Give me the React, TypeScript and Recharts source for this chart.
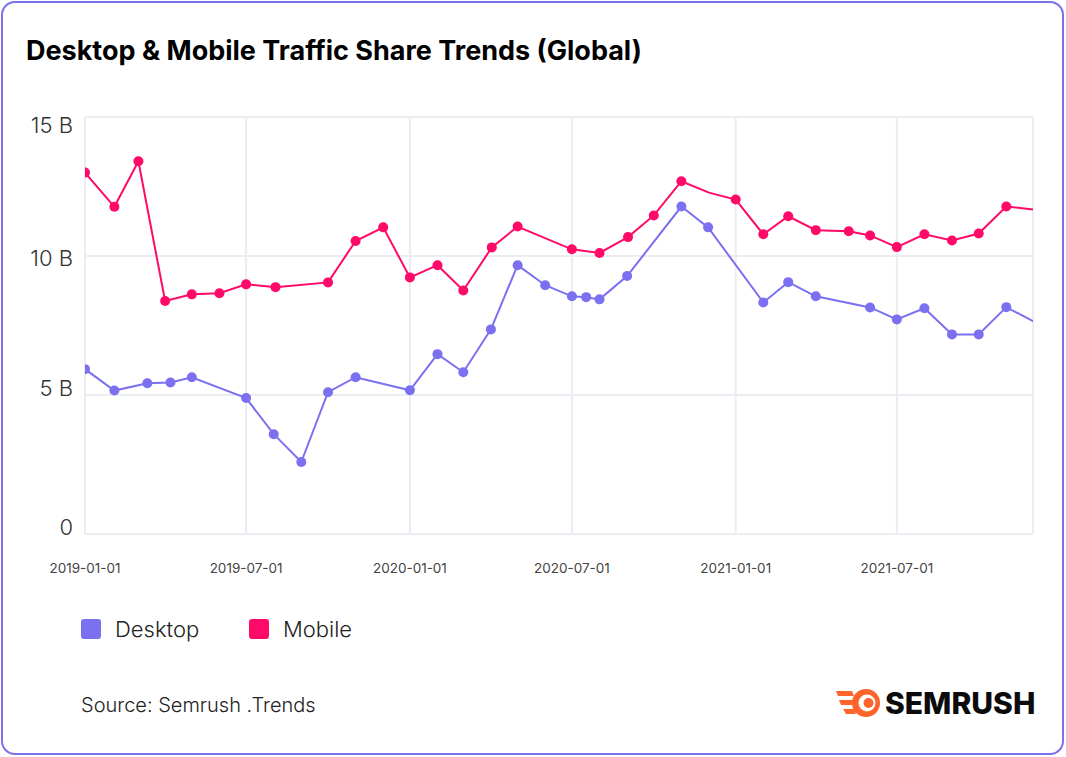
import { LineChart, Line, XAxis, YAxis, CartesianGrid, ReferenceLine } from "recharts"

// series names + colors
const seriesNames = ["Desktop", "Mobile"]
const seriesColors = ["#7b70f0", "#ff0a68"]

// desktop visits (billions), irregular sample dates
const desktopDates = [
  "2019-01-01", "2019-02-03", "2019-03-12", "2019-04-07", "2019-05-01", "2019-07-01",
  "2019-08-01", "2019-09-01", "2019-10-01", "2019-11-01", "2020-01-01", "2020-02-01",
  "2020-03-01", "2020-04-01", "2020-05-01", "2020-06-01", "2020-07-01", "2020-07-17",
  "2020-08-01", "2020-09-01", "2020-11-01", "2020-12-01", "2021-02-01", "2021-03-01",
  "2021-04-01", "2021-06-01", "2021-07-01", "2021-08-01", "2021-09-01", "2021-10-01",
  "2021-11-01", "2022-01-01",
]
const desktopValues = [
  5.93, 5.16, 5.42, 5.45, 5.64, 4.89,
  3.59, 2.59, 5.1, 5.64, 5.17, 6.47,
  5.82, 7.36, 9.67, 8.95, 8.55, 8.52,
  8.44, 9.28, 11.78, 11.03, 8.33, 9.06,
  8.55, 8.15, 7.72, 8.12, 7.18, 7.18,
  8.16, 7.14,
]

// mobile visits (billions)
const mobileDates = [
  "2019-01-01", "2019-02-03", "2019-03-02", "2019-04-01", "2019-05-01", "2019-06-01",
  "2019-07-01", "2019-08-03", "2019-10-01", "2019-11-01", "2019-12-02", "2020-01-01",
  "2020-02-01", "2020-03-01", "2020-04-02", "2020-05-01", "2020-07-01", "2020-08-01",
  "2020-09-02", "2020-10-01", "2020-11-01", "2020-12-02", "2021-01-01", "2021-02-01",
  "2021-03-01", "2021-04-01", "2021-05-08", "2021-06-01", "2021-07-01", "2021-08-01",
  "2021-09-01", "2021-10-01", "2021-11-01", "2022-01-01",
]
const mobileValues = [
  13.0, 11.77, 13.41, 8.38, 8.62, 8.66,
  8.98, 8.88, 9.05, 10.54, 11.03, 9.23,
  9.67, 8.76, 10.31, 11.06, 10.24, 10.11,
  10.68, 11.46, 12.69, 12.28, 12.03, 10.78,
  11.43, 10.93, 10.89, 10.74, 10.32, 10.78,
  10.56, 10.81, 11.78, 11.56,
]
// points drawn without a marker
const mobileHiddenDots = ["2020-12-02"]

const xTickLabels = ["2019-01-01", "2019-07-01", "2020-01-01", "2020-07-01", "2021-01-01", "2021-07-01"]
const xDomainLabels = ["2019-01-01", "2021-12-01"]
const yTicks = [0, 5, 10, 15]

const GRID = "#ececf3"
const FONT = "Inter, 'Noto Sans', sans-serif"

const toData = (dates: string[], values: number[]) =>
  dates.map((d, i) => ({ t: Date.parse(d), v: values[i], date: d }))

const desktopData = toData(desktopDates, desktopValues)
const mobileData = toData(mobileDates, mobileValues)
const xTicks = xTickLabels.map((d) => Date.parse(d))
const xDomain = xDomainLabels.map((d) => Date.parse(d))

// y labels sit a little inside the plot at the top/bottom
const yLabelShift: Record<number, number> = { 15: 8, 10: 2, 5: -7.5, 0: -7 }

const YTick = (props: any) => {
  const { x, y, payload } = props
  const v = payload.value
  const label = v === 0 ? "0" : `${v} B`
  return (
    <text x={x} y={y + (yLabelShift[v] ?? 0) + 8} textAnchor="end" fontSize={22} fontWeight={300} fill="#333" fontFamily={FONT}>
      {label}
    </text>
  )
}

const XTick = (props: any) => {
  const { x, y, payload } = props
  const label = new Date(payload.value).toISOString().slice(0, 10)
  return (
    <text x={x} y={y + 9} textAnchor="middle" fontSize={13.5} fill="#444" fontFamily={FONT}>
      {label}
    </text>
  )
}

const MobileDot = (props: any) => {
  const { cx, cy, index, payload } = props
  if (mobileHiddenDots.includes(payload.date) || cx == null) return <g key={`m-${index}`} />
  return <circle key={`m-${index}`} cx={cx} cy={cy} r={5} fill={seriesColors[1]} />
}

function SemrushLogo() {
  return (
    <svg width={204} height={40} viewBox="0 0 204 40" style={{ position: "absolute", left: 834, top: 683 }}>
      <path d="M2 8 L18 8 L20 13 L4 13 Z" fill="#ff642d" />
      <path d="M5 17 L19 17 L19 22 L7 22 Z" fill="#ff642d" />
      <path d="M9 26 L20 26 L22 31 L12 31 Z" fill="#ff642d" />
      <circle cx={32} cy={20} r={14} fill="#ff642d" />
      <circle cx={33} cy={20} r={8.5} fill="#fff" />
      <circle cx={34.5} cy={20} r={5} fill="#ff642d" />
      <text x={51} y={31} fontSize={30} fontWeight={800} fill="#0b0b0b" fontFamily={FONT}>
        SEMRUSH
      </text>
    </svg>
  )
}

export default function App() {
  return (
    <div style={{ position: "absolute", left: 0, top: 0, width: 1066, height: 757, background: "#fff", fontFamily: FONT }}>
      <div
        style={{
          position: "absolute",
          left: 1,
          top: 1,
          width: 1063,
          height: 754,
          boxSizing: "border-box",
          border: "2px solid #7b70ee",
          borderRadius: 14,
        }}
      />
      <div style={{ position: "absolute", left: 26, top: 36, fontSize: 27, lineHeight: "30px", fontWeight: 700, color: "#000" }}>
        Desktop &amp; Mobile Traffic Share Trends (Global)
      </div>

      <div style={{ position: "absolute", left: 0, top: 0 }}>
        <LineChart width={1066} height={600} margin={{ top: 117, right: 33, bottom: 0, left: 0 }}>
          <CartesianGrid stroke={GRID} strokeWidth={2} />
          <XAxis
            type="number"
            dataKey="t"
            domain={xDomain}
            ticks={xTicks}
            allowDataOverflow
            height={66}
            tickSize={0}
            tickMargin={30}
            tick={<XTick />}
            axisLine={{ stroke: GRID, strokeWidth: 2 }}
            tickLine={false}
          />
          <YAxis
            type="number"
            domain={[0, 15]}
            ticks={yTicks}
            width={85}
            tickSize={0}
            tickMargin={12}
            tick={<YTick />}
            axisLine={{ stroke: GRID, strokeWidth: 2 }}
            tickLine={false}
          />
          <ReferenceLine x={xDomain[1]} stroke={GRID} strokeWidth={2} />
          <Line
            data={desktopData}
            dataKey="v"
            name={seriesNames[0]}
            type="linear"
            stroke={seriesColors[0]}
            strokeWidth={2}
            dot={{ r: 5, fill: seriesColors[0], strokeWidth: 0 }}
            activeDot={false}
            isAnimationActive={false}
          />
          <Line
            data={mobileData}
            dataKey="v"
            name={seriesNames[1]}
            type="linear"
            stroke={seriesColors[1]}
            strokeWidth={2}
            dot={MobileDot}
            activeDot={false}
            isAnimationActive={false}
          />
        </LineChart>
      </div>

      {/* legend */}
      <div style={{ position: "absolute", left: 81, top: 617, display: "flex", alignItems: "center" }}>
        {seriesNames.map((name, i) => (
          <div key={name} style={{ display: "flex", alignItems: "center", width: i === 0 ? 168 : "auto" }}>
            <div style={{ width: 20, height: 20, borderRadius: 3, background: seriesColors[i], marginRight: 14 }} />
            <span style={{ fontSize: 22, fontWeight: 300, color: "#222", lineHeight: "24px" }}>{name}</span>
          </div>
        ))}
      </div>

      <div style={{ position: "absolute", left: 81, top: 693, fontSize: 20, fontWeight: 300, color: "#222", lineHeight: "24px" }}>
        Source: Semrush .Trends
      </div>
      <SemrushLogo />
    </div>
  )
}
